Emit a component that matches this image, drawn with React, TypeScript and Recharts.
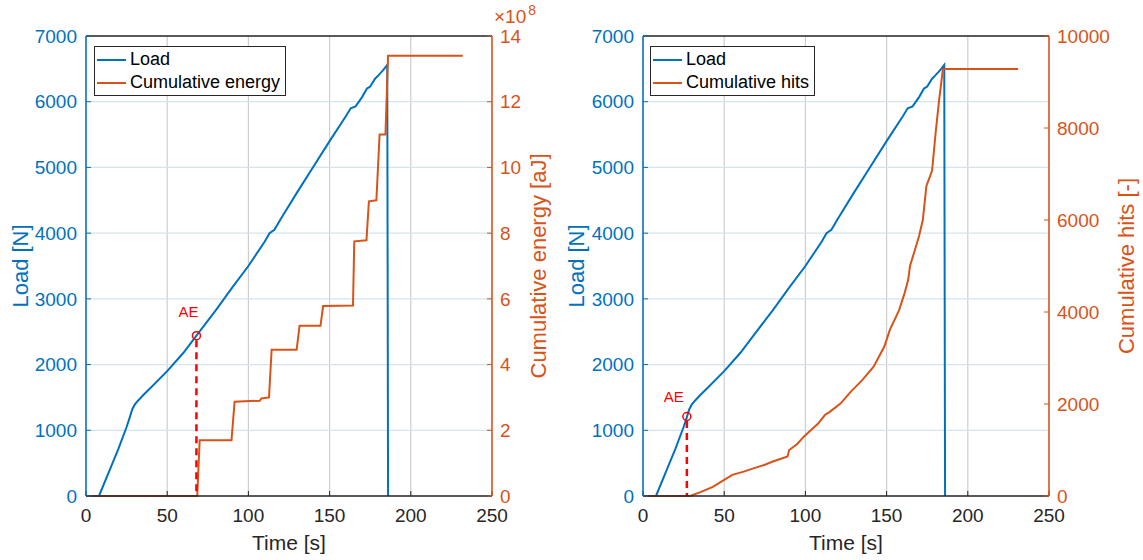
import React from "react"
import { LineChart, Line, XAxis, YAxis, CartesianGrid, Legend, ReferenceDot, ReferenceLine } from "recharts"

const BLUE = "#0072BD"
const ORANGE = "#D95319"
const DARK = "#262626"
const RED = "#FF0000"
const FONT = '"Liberation Sans", Arial, Helvetica, sans-serif'

const timeTicks = [0, 50, 100, 150, 200, 250]
const loadTicks = [0, 1000, 2000, 3000, 4000, 5000, 6000, 7000]
const energyTicks = [0, 2, 4, 6, 8, 10, 12, 14]
const hitsTicks = [0, 2000, 4000, 6000, 8000, 10000]

// load [N] vs time [s] (same test in both panels)
const loadTime = [8, 15, 20, 25, 27, 28.5, 30, 32, 35, 40, 50, 60, 68, 80, 90, 100, 110, 113, 116, 120, 130, 140, 150, 160, 163, 166, 170, 173, 175, 178, 180, 183, 185.5, 186]
const loadN = [0, 420, 720, 1050, 1200, 1320, 1390, 1450, 1530, 1650, 1900, 2180, 2440, 2830, 3170, 3500, 3870, 4000, 4050, 4220, 4620, 5010, 5400, 5780, 5900, 5930, 6070, 6200, 6230, 6350, 6400, 6480, 6560, 0]

// cumulative energy [x1e8 aJ]
const energyTime = [0, 68.5, 70, 89.6, 91.5, 107, 108, 112.7, 114.3, 129.7, 131.5, 144.4, 146, 164.4, 165.2, 172.7, 174.2, 178.8, 180.8, 184.4, 186, 232]
const energyE8 = [0, 0, 1.7, 1.7, 2.87, 2.9, 2.97, 3.0, 4.45, 4.45, 5.18, 5.18, 5.78, 5.8, 7.75, 7.78, 8.97, 9.0, 11.0, 11.0, 13.4, 13.4]

// cumulative hits [-]
const hitsTime = [0, 29, 35, 43, 50, 55, 62, 68, 75, 80, 89, 90, 95, 99, 104, 108, 112, 115, 121.6, 128, 135, 142, 148.6, 152, 157.7, 161, 163.3, 164.4, 167, 170, 172.3, 174.5, 178, 180.2, 182.4, 184.7, 186, 231]
const hitsCount = [0, 0, 80, 200, 350, 460, 530, 600, 680, 750, 860, 1000, 1130, 1290, 1450, 1580, 1760, 1830, 2010, 2270, 2520, 2810, 3250, 3610, 4040, 4400, 4700, 5000, 5300, 5650, 6000, 6740, 7070, 7900, 8630, 9280, 9280, 9280]

// AE onset markers
const aeLeft = { t: 68, load: 2440 }
const aeRight = { t: 27, load: 1210 }

const zip = (t: number[], v: number[]) => t.map((x, i) => ({ t: x, v: v[i] }))
const loadData = zip(loadTime, loadN)

const rotLabel = (text: string, color: string, dx: number, extra?: boolean) => (props: any) => {
  const vb = props.viewBox
  const x = vb.x + dx
  const y = vb.y + vb.height / 2
  return (
    <g>
      <text x={x} y={y} transform={`rotate(-90, ${x}, ${y})`} textAnchor="middle" fill={color} fontSize={22} fontFamily={FONT}>
        {text}
      </text>
      {extra && (
        <text x={vb.x + 2} y={vb.y - 13} fill={color} fontSize={19} fontFamily={FONT}>
          ×10<tspan dx={2} dy={-8} fontSize={14}>8</tspan>
        </text>
      )}
    </g>
  )
}

const timeLabel = (props: any) => {
  const vb = props.viewBox
  return (
    <text x={vb.x + vb.width / 2} y={vb.y + 54} textAnchor="middle" fill={DARK} fontSize={21} fontFamily={FONT}>
      Time [s]
    </text>
  )
}

const aeLabel = (dx: number, dy: number) => (props: any) => {
  const vb = props.viewBox
  const cx = vb.x + vb.width / 2
  const cy = vb.y + vb.height / 2
  return (
    <text x={cx + dx} y={cy + dy + 5} textAnchor="middle" fill={RED} fontSize={15} fontFamily={FONT}>
      AE
    </text>
  )
}

const legendContent = (props: any) => {
  const items = [...(props.payload || [])].sort((a: any, b: any) => (a.value === "Load" ? -1 : b.value === "Load" ? 1 : 0))
  return (
    <div style={{ border: `1.5px solid ${DARK}`, background: "#fff", padding: "1px 5px 1px 2px", fontSize: 18, lineHeight: "23px", color: "#000", fontFamily: FONT }}>
      {items.map((p: any) => (
        <div key={p.value} style={{ display: "flex", alignItems: "center", whiteSpace: "nowrap" }}>
          <span style={{ display: "inline-block", width: 29, borderTop: `2px solid ${p.color}`, marginRight: 4 }} />
          {p.value}
        </div>
      ))}
    </div>
  )
}

interface PanelProps {
  width: number
  leftW: number
  rightW: number
  legendLeft: number
  rightName: string
  rightData: Array<{ t: number; v: number }>
  rightDomain: [number, number]
  rightTicks: number[]
  rightLabel: string
  leftLabelDx: number
  rightLabelDx: number
  exponent?: boolean
  ae: { t: number; load: number }
  aeDx: number
  aeDy: number
}

const Panel: React.FC<PanelProps> = (p) => (
  <LineChart width={p.width} height={560} margin={{ top: 35, right: 0, bottom: 0, left: 0 }}>
    <CartesianGrid horizontal={false} stroke="#cdcdcd" strokeWidth={1.2} />
    <CartesianGrid vertical={false} yAxisId="left" stroke="#d4e4f2" strokeWidth={1.2} />
    <XAxis
      dataKey="t"
      type="number"
      domain={[0, 250]}
      ticks={timeTicks}
      interval={0}
      height={64}
      tickSize={-5}
      tickMargin={18}
      axisLine={{ stroke: DARK, strokeWidth: 1.5 }}
      tickLine={{ stroke: DARK }}
      tick={{ fill: DARK, fontSize: 19, fontFamily: FONT }}
      label={{ content: timeLabel }}
    />
    <XAxis
      xAxisId="top"
      orientation="top"
      dataKey="t"
      type="number"
      domain={[0, 250]}
      ticks={timeTicks}
      interval={0}
      height={1}
      tickSize={-5}
      tick={false}
      axisLine={{ stroke: DARK, strokeWidth: 1.5 }}
      tickLine={{ stroke: DARK }}
    />
    <YAxis
      yAxisId="left"
      domain={[0, 7000]}
      ticks={loadTicks}
      interval={0}
      width={p.leftW}
      tickSize={-5}
      tickMargin={14}
      axisLine={{ stroke: BLUE, strokeWidth: 1.5 }}
      tickLine={{ stroke: BLUE }}
      tick={{ fill: BLUE, fontSize: 19, fontFamily: FONT }}
      label={{ content: rotLabel("Load [N]", BLUE, p.leftLabelDx) }}
    />
    <YAxis
      yAxisId="right"
      orientation="right"
      domain={p.rightDomain}
      ticks={p.rightTicks}
      interval={0}
      width={p.rightW}
      tickSize={-5}
      tickMargin={13}
      axisLine={{ stroke: ORANGE, strokeWidth: 1.5 }}
      tickLine={{ stroke: ORANGE }}
      tick={{ fill: ORANGE, fontSize: 19, fontFamily: FONT }}
      label={{ content: rotLabel(p.rightLabel, ORANGE, p.rightLabelDx, p.exponent) }}
    />
    <Legend
      layout="vertical"
      align="center"
      verticalAlign="middle"
      wrapperStyle={{ left: p.legendLeft, top: 46, width: "auto" }}
      content={legendContent}
    />
    <Line yAxisId="left" data={loadData} dataKey="v" name="Load" type="linear" stroke={BLUE} strokeWidth={2} dot={false} isAnimationActive={false} />
    <Line yAxisId="right" data={p.rightData} dataKey="v" name={p.rightName} type="linear" stroke={ORANGE} strokeWidth={2} dot={false} isAnimationActive={false} />
    <ReferenceLine
      yAxisId="left"
      segment={[{ x: p.ae.t, y: p.ae.load - 70 }, { x: p.ae.t, y: 0 }]}
      stroke={RED}
      strokeWidth={2.5}
      strokeDasharray="7 5"
    />
    <ReferenceDot
      yAxisId="left"
      x={p.ae.t}
      y={p.ae.load}
      r={4}
      fill="none"
      stroke={RED}
      strokeWidth={1.5}
      label={{ content: aeLabel(p.aeDx, p.aeDy) }}
    />
  </LineChart>
)

export default function App() {
  return (
    <div style={{ position: "absolute", left: 0, top: 0, width: 1143, height: 560, background: "#fff", fontFamily: FONT }}>
      <div style={{ position: "absolute", left: 0, top: 0 }}>
        <Panel
          width={560}
          leftW={86}
          rightW={68}
          legendLeft={94}
          rightName="Cumulative energy"
          rightData={zip(energyTime, energyE8)}
          rightDomain={[0, 14]}
          rightTicks={energyTicks}
          rightLabel="Cumulative energy [aJ]"
          leftLabelDx={28}
          rightLabelDx={54}
          exponent
          ae={aeLeft}
          aeDx={-8}
          aeDy={-24}
        />
      </div>
      <div style={{ position: "absolute", left: 560, top: 0 }}>
        <Panel
          width={583}
          leftW={83}
          rightW={94}
          legendLeft={90}
          rightName="Cumulative hits"
          rightData={zip(hitsTime, hitsCount)}
          rightDomain={[0, 10000]}
          rightTicks={hitsTicks}
          rightLabel="Cumulative hits [-]"
          leftLabelDx={24}
          rightLabelDx={85}
          ae={aeRight}
          aeDx={-13}
          aeDy={-19}
        />
      </div>
    </div>
  )
}
